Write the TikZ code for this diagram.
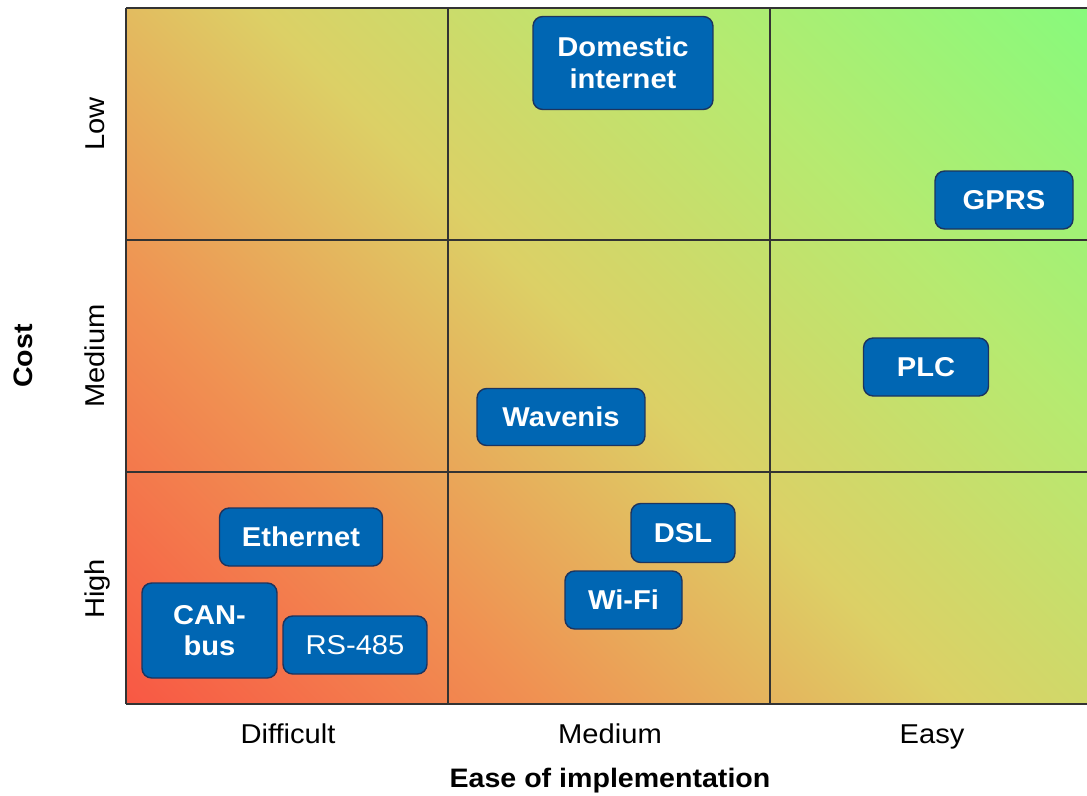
\documentclass[tikz,border=0pt]{standalone}
\usepackage{fontspec}
\setmainfont{Liberation Sans}[FakeStretch=1.07]
\definecolor{techblue}{RGB}{0,102,179}
\definecolor{techedge}{RGB}{28,52,95}
\definecolor{costred}{RGB}{248,88,68}
\definecolor{costorange}{RGB}{240,145,82}
\definecolor{costyellow}{RGB}{220,208,102}
\definecolor{costlime}{RGB}{182,234,112}
\definecolor{costgreen}{RGB}{136,250,124}
\pgfdeclarehorizontalshading{costshading}{100bp}{color(0bp)=(costred); color(14.6bp)=(costred);
    color(32.3bp)=(costorange); color(50bp)=(costyellow); color(67.7bp)=(costlime);
    color(85.4bp)=(costgreen); color(100bp)=(costgreen)}

\begin{document}
\begin{tikzpicture}[x=0.02cm, y=-0.02cm,
    tech/.style={draw=techedge, line width=0.8pt, fill=techblue, rounded corners=5.5pt,
        text=white, align=center, inner sep=0pt, font=\bfseries\fontsize{15.5}{18}\selectfont},
    axislabel/.style={inner sep=0pt, anchor=base, font=\fontsize{15.5}{18}\selectfont},
    axistitle/.style={inner sep=0pt, anchor=base, font=\bfseries\fontsize{15.2}{18}\selectfont}]
            \useasboundingbox (0,0) rectangle (1087,795);

            \shade[shading=costshading, shading angle=45] (126,8) rectangle (1087,704);
            \draw[black!80, line width=0.6pt] (126,8) -- (1087,8);
            \draw[black!80, line width=0.6pt] (126,240) -- (1087,240);
            \draw[black!80, line width=0.6pt] (126,472) -- (1087,472);
            \draw[black!80, line width=0.6pt] (126,704) -- (1087,704);
            \draw[black!80, line width=0.6pt] (126,8) -- (126,704);
            \draw[black!80, line width=0.6pt] (448,8) -- (448,704);
            \draw[black!80, line width=0.6pt] (770,8) -- (770,704);

            \node[tech, minimum width=3.6cm, minimum height=1.86cm] (domestic) at (623,63) {Domestic\\internet};
            \node[tech, minimum width=2.76cm, minimum height=1.16cm] (gprs) at (1004,200) {GPRS};
            \node[tech, minimum width=2.5cm, minimum height=1.16cm] (plc) at (926,367) {PLC};
            \node[tech, minimum width=3.36cm, minimum height=1.14cm] (wavenis) at (561,417) {Wavenis};
            \node[tech, minimum width=3.26cm, minimum height=1.16cm] (ethernet) at (301,537) {Ethernet};
            \node[tech, minimum width=2.7cm, minimum height=1.9cm] (canbus) at (209.5,630.5) {CAN-\\bus};
            \node[tech, minimum width=2.88cm, minimum height=1.16cm, font=\fontsize{15.5}{18}\selectfont] (rs485) at (355,645) {RS-485};
            \node[tech, minimum width=2.08cm, minimum height=1.18cm] (dsl) at (683,533) {DSL};
            \node[tech, minimum width=2.34cm, minimum height=1.16cm] (wifi) at (623.5,600) {Wi-Fi};

            \node[axislabel, rotate=90] (low) at (104,124) {Low};
            \node[axislabel, rotate=90] (medcost) at (104,356) {Medium};
            \node[axislabel, rotate=90] (high) at (104,589) {High};
            \node[axistitle, rotate=90] (cost) at (32,356) {Cost};

            \node[axislabel] (difficult) at (288,743) {Difficult};
            \node[axislabel] (medease) at (610,743) {Medium};
            \node[axislabel] (easy) at (932,743) {Easy};
            \node[axistitle] (ease) at (610,787) {Ease of implementation};
        \end{tikzpicture}
\end{document}
